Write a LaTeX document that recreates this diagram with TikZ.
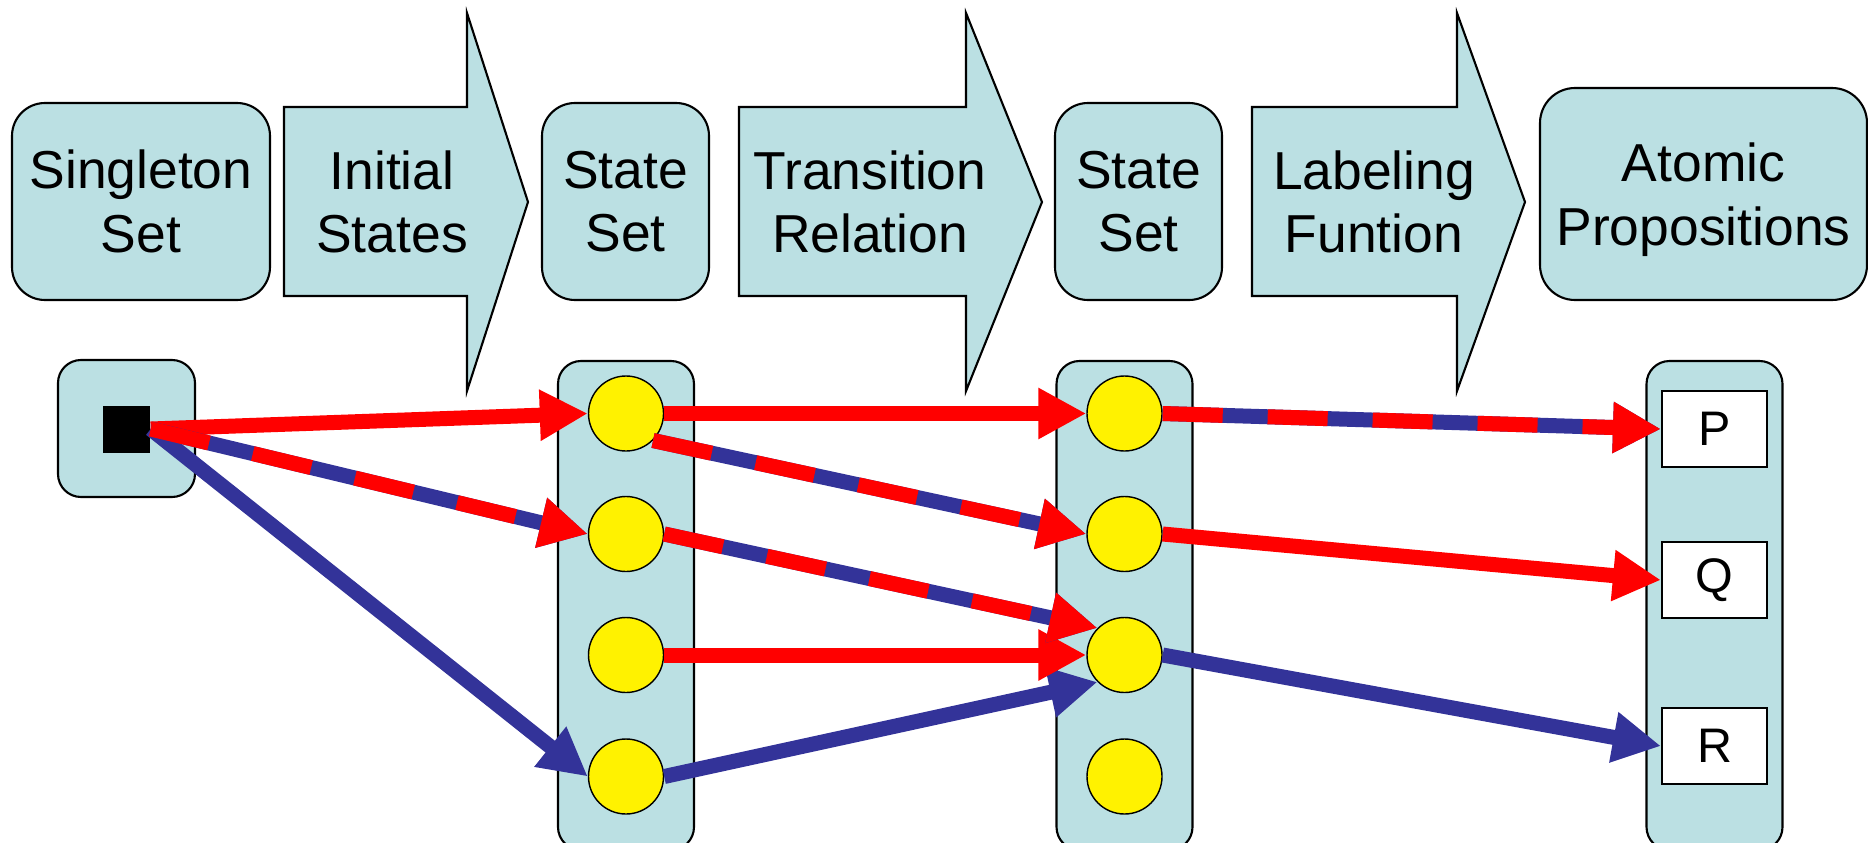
\documentclass[tikz,border=0pt]{standalone}
\usepackage{fontspec}
\setmainfont{Liberation Sans}
\usetikzlibrary{arrows.meta}
\definecolor{paleteal}{HTML}{BBE0E3}
\definecolor{pptblue}{HTML}{333399}
\definecolor{pptred}{HTML}{FF0000}

\begin{document}
\begin{tikzpicture}[every node/.style={font=\fontsize{15.2}{18.1}\selectfont, align=center},
  setbox/.style={draw, fill=paleteal, rounded corners=3.3mm, line width=0.6pt, minimum height=19.7mm},
  colbox/.style={draw, fill=paleteal, rounded corners=2.3mm, line width=0.6pt, minimum width=13.6mm},
  blockarrow/.style={draw, fill=paleteal, line width=0.6pt},
  state/.style={circle, draw, fill=yellow, line width=0.4pt, minimum size=7.5mm, inner sep=0pt},
  prop/.style={draw, fill=white, line width=0.6pt, minimum width=10.5mm, minimum height=7.6mm, font=\fontsize{13.8}{16}\selectfont},
  head/.style={-{Triangle[length=4.8mm,width=4.8mm]}},
  redarr/.style={draw=pptred, line width=1.5mm, head},
  bluearr/.style={draw=pptblue, line width=1.5mm, head},
  mixarr/.style={preaction={draw=pptblue, solid, line width=1.5mm, head}, redarr, dash pattern=on 6mm off 4.5mm}]
  \useasboundingbox (0,0) rectangle (18.68,8.42);

  % top row
  \node[setbox, minimum width=25.8mm] (single) at (1.41,6.405) {Singleton\\Set};
  \node[setbox, minimum width=16.7mm] (states1) at (6.255,6.405) {State\\Set};
  \node[setbox, minimum width=16.7mm] (states2) at (11.385,6.405) {State\\Set};
  \node[setbox, minimum width=32.7mm, minimum height=21.2mm, rounded corners=3.5mm, text depth=0pt] (atoms) at (17.035,6.48) {Atomic\\Propositions};
  \foreach \l/\b/\t/\x/\txt [count=\i] in {2.84/4.67/5.28/3.92/{Initial\\States}, 7.39/9.66/10.42/8.70/{Transition\\Relation}, 12.52/14.57/15.25/13.74/{Labeling\\Funtion}} {
    \draw[blockarrow] (\l,7.35) -- (\b,7.35) -- (\b,8.29) -- (\t,6.40) -- (\b,4.51) -- (\b,5.46) -- (\l,5.46) -- cycle;
    \node (map\i) at (\x,6.40) {\txt};
  }

  % bottom row
  \node[colbox, minimum width=13.7mm, minimum height=13.7mm] (init) at (1.265,4.135) {};
  \node[fill=black, minimum size=4.7mm, inner sep=0pt] (dot) at (1.265,4.13) {};
  \node[colbox, minimum height=48.9mm] (col1) at (6.26,2.365) {};
  \node[colbox, minimum height=48.9mm] (col2) at (11.245,2.365) {};
  \node[colbox, minimum height=48.9mm] (col3) at (17.145,2.365) {};
  \foreach \y [count=\j] in {4.285,3.08,1.87,0.655} {
    \node[state] (a\j) at (6.26,\y) {};
    \node[state] (b\j) at (11.245,\y) {};
  }
  \node[prop] (p) at (17.145,4.13) {P};
  \node[prop] (q) at (17.145,2.62) {Q};
  \node[prop] (r) at (17.145,0.96) {R};

  \draw[bluearr] (dot.east) -- (a4.west);
  \draw[bluearr] (a4.east) -- (b3.south west);
  \draw[bluearr] (b3.east) -- (r.west);
  \draw[redarr] (dot.east) -- (a1.west);
  \draw[redarr] (a1.east) -- (b1.west);
  \draw[redarr] (a3.east) -- (b3.west);
  \draw[redarr] (b2.east) -- (q.west);
  \draw[mixarr] (dot.east) -- (a2.west);
  \draw[mixarr] (a1.south east) -- (b2.west);
  \draw[mixarr] (a2.east) -- (b3.north west);
  \draw[mixarr] (b1.east) -- (p.west);
\end{tikzpicture}
\end{document}
